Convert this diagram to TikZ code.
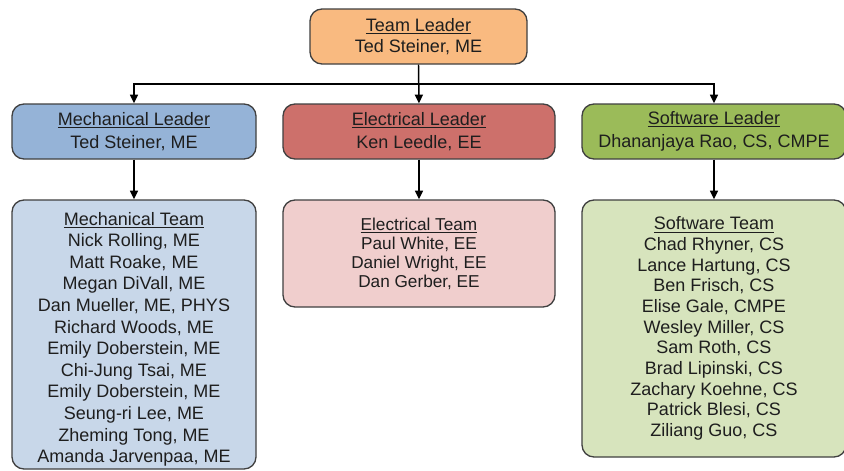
\documentclass[tikz,border=0pt]{standalone}
\usepackage{fontspec}
\setmainfont{Liberation Sans}
\usetikzlibrary{arrows.meta}

\definecolor{leadOrange}{RGB}{249,186,128}
\definecolor{mechBlue}{RGB}{149,179,215}
\definecolor{elecRed}{RGB}{205,112,107}
\definecolor{softGreen}{RGB}{155,187,89}
\definecolor{mechPale}{RGB}{200,215,233}
\definecolor{elecPale}{RGB}{240,206,205}
\definecolor{softPale}{RGB}{215,228,189}
\definecolor{edge}{RGB}{64,64,64}
\definecolor{ink}{RGB}{30,30,30}

\begin{document}
\begin{tikzpicture}[
  x=0.75pt, y=-0.75pt,
  box/.style={draw=edge, line width=1pt, rounded corners=9pt, align=center,
    inner sep=0pt, text=ink, font=\fontsize{13.5}{17.2}\selectfont},
  lbox/.style={box, minimum height=41.25pt},
  tbox/.style={box, font=\fontsize{13.5}{16.2}\selectfont},
  arr/.style={-{Triangle[length=6.5pt,width=6pt]}, line width=1.1pt},
]
\useasboundingbox (0,0) rectangle (844,471);
\fill[white] (0,0) rectangle (844,471);

% ---------------- top ----------------
\node[box, fill=leadOrange, minimum width=162.75pt, minimum height=41.25pt,
  font=\fontsize{13.5}{16.2}\selectfont]
  (lead) at (418.5,36.5) {\underline{Team Leader}\\ Ted Steiner, ME};

% ---------------- leaders ----------------
\def\ly{131.5}  % leader row centre (px)
\node[lbox, fill=mechBlue, minimum width=183pt] (mlead) at (134,\ly)
  {\underline{Mechanical Leader}\\ Ted Steiner, ME};
\node[lbox, fill=elecRed, minimum width=204pt] (elead) at (419,\ly)
  {\underline{Electrical Leader}\\ Ken Leedle, EE};
\node[lbox, fill=softGreen, minimum width=198pt] (slead) at (714,\ly)
  {\underline{Software Leader}\\ Dhananjaya Rao, CS, CMPE};

% ---------------- teams ----------------
\node[tbox, fill=mechPale, minimum width=183pt, minimum height=201.75pt]
  (mteam) at (134,334.5)
  {\rule{0pt}{17pt}\underline{Mechanical Team}\\ Nick Rolling, ME\\ Matt Roake, ME\\
   Megan DiVall, ME\\ Dan Mueller, ME, PHYS\\ Richard Woods, ME\\
   Emily Doberstein, ME\\ Chi-Jung Tsai, ME\\ Emily Doberstein, ME\\
   Seung-ri Lee, ME\\ Zheming Tong, ME\\ Amanda Jarvenpaa, ME};
\node[tbox, fill=elecPale, minimum width=204pt, minimum height=80.25pt,
  font=\fontsize{12.9}{14.3}\selectfont]
  (eteam) at (419,253.5)
  {\underline{Electrical Team}\\ Paul White, EE\\ Daniel Wright, EE\\ Dan Gerber, EE};
\node[tbox, fill=softPale, minimum width=198pt, minimum height=192.75pt,
  font=\fontsize{13.5}{15.5}\selectfont]
  (steam) at (714,328.5)
  {\underline{Software Team}\\ Chad Rhyner, CS\\ Lance Hartung, CS\\
   Ben Frisch, CS\\ Elise Gale, CMPE\\ Wesley Miller, CS\\ Sam Roth, CS\\
   Brad Lipinski, CS\\ Zachary Koehne, CS\\ Patrick Blesi, CS\\ Ziliang Guo, CS};

% ---------------- connectors ----------------
\coordinate (bus) at (418.5,84);
\draw[arr] (lead.south) -- (elead.north);
\draw[arr] (bus) -| (mlead.north);
\draw[arr] (bus) -| (slead.north);
\draw[arr] (mlead.south) -- (mteam.north);
\draw[arr] (elead.south) -- (eteam.north);
\draw[arr] (slead.south) -- (steam.north);

\end{tikzpicture}
\end{document}
